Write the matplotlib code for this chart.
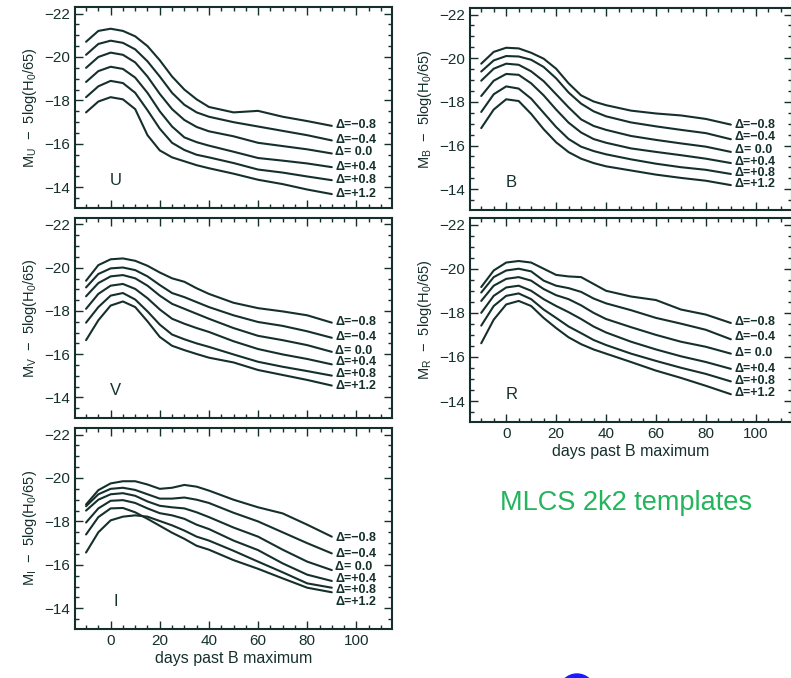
import matplotlib.pyplot as plt
from matplotlib.patches import Ellipse
from matplotlib.ticker import MultipleLocator

plt.rcParams['font.family'] = ['Liberation Sans', 'DejaVu Sans']
plt.rcParams['mathtext.fontset'] = 'custom'
plt.rcParams['mathtext.rm'] = 'Liberation Sans'
plt.rcParams['mathtext.it'] = 'Liberation Sans'

ink = '#15302c'

# days past B maximum, shared by all templates
days = [-10, -5, 0, 5, 10, 15, 20, 25, 30, 35, 40, 50, 60, 70, 80, 90]
delta_text = ['Δ=−0.8', 'Δ=−0.4', 'Δ= 0.0', 'Δ=+0.4', 'Δ=+0.8', 'Δ=+1.2']

# absolute magnitudes, one row per Delta
U_mags = [
    [-20.7, -21.2, -21.3, -21.2, -20.95, -20.5, -19.85, -19.1, -18.5, -18.05, -17.7, -17.45, -17.52, -17.25, -17.05, -16.83],
    [-20.1, -20.6, -20.75, -20.65, -20.35, -19.8, -19.1, -18.35, -17.8, -17.45, -17.25, -17.0, -16.8, -16.6, -16.4, -16.16],
    [-19.5, -20.0, -20.2, -20.1, -19.75, -19.1, -18.3, -17.6, -17.1, -16.78, -16.58, -16.35, -16.05, -15.9, -15.75, -15.56],
    [-18.85, -19.35, -19.55, -19.45, -19.05, -18.35, -17.5, -16.8, -16.3, -16.08, -15.92, -15.64, -15.35, -15.23, -15.1, -14.93],
    [-18.15, -18.65, -18.9, -18.8, -18.35, -17.55, -16.7, -16.05, -15.72, -15.5, -15.38, -15.12, -14.82, -14.68, -14.5, -14.33],
    [-17.45, -17.95, -18.15, -18.05, -17.6, -16.4, -15.7, -15.38, -15.2, -15.02, -14.88, -14.63, -14.35, -14.15, -13.9, -13.69],
]
B_mags = [
    [-19.75, -20.29, -20.48, -20.45, -20.25, -19.98, -19.52, -18.85, -18.3, -18.02, -17.85, -17.6, -17.47, -17.38, -17.22, -16.96],
    [-19.39, -19.9, -20.1, -20.08, -19.93, -19.6, -19.08, -18.43, -17.92, -17.57, -17.34, -17.06, -16.88, -16.72, -16.57, -16.29],
    [-18.97, -19.52, -19.75, -19.7, -19.4, -18.95, -18.35, -17.75, -17.2, -16.9, -16.72, -16.44, -16.26, -16.1, -15.95, -15.71],
    [-18.27, -18.97, -19.28, -19.24, -18.85, -18.3, -17.65, -17.05, -16.6, -16.3, -16.13, -15.87, -15.71, -15.56, -15.4, -15.2],
    [-17.54, -18.35, -18.71, -18.61, -18.15, -17.5, -16.85, -16.3, -15.95, -15.75, -15.6, -15.37, -15.17, -15.01, -14.89, -14.7],
    [-16.8, -17.65, -18.12, -18.04, -17.45, -16.75, -16.15, -15.7, -15.4, -15.2, -15.05, -14.86, -14.67, -14.52, -14.39, -14.19],
]
V_mags = [
    [-19.4, -20.12, -20.39, -20.43, -20.32, -20.09, -19.78, -19.51, -19.35, -19.05, -18.79, -18.38, -18.13, -17.98, -17.8, -17.46],
    [-19.09, -19.71, -19.97, -20.01, -19.89, -19.6, -19.2, -18.83, -18.64, -18.41, -18.18, -17.8, -17.49, -17.31, -17.06, -16.76],
    [-18.68, -19.29, -19.6, -19.66, -19.51, -19.17, -18.71, -18.33, -18.1, -17.87, -17.64, -17.21, -16.85, -16.65, -16.42, -16.11],
    [-18.1, -18.79, -19.17, -19.25, -19.02, -18.59, -18.07, -17.64, -17.41, -17.21, -17.03, -16.6, -16.24, -15.99, -15.78, -15.53],
    [-17.46, -18.18, -18.71, -18.83, -18.53, -17.98, -17.37, -16.91, -16.69, -16.5, -16.34, -15.99, -15.65, -15.42, -15.22, -15.01],
    [-16.65, -17.57, -18.25, -18.44, -18.18, -17.52, -16.8, -16.39, -16.19, -16.01, -15.84, -15.62, -15.27, -15.04, -14.81, -14.55],
]
R_mags = [
    [-19.17, -19.92, -20.28, -20.35, -20.28, -20.0, -19.72, -19.65, -19.62, -19.31, -19.0, -18.74, -18.58, -18.15, -17.92, -17.54],
    [-18.92, -19.62, -19.92, -20.0, -19.88, -19.46, -19.23, -19.12, -18.95, -18.65, -18.43, -18.12, -17.77, -17.51, -17.23, -16.8],
    [-18.54, -19.23, -19.54, -19.62, -19.46, -19.08, -18.8, -18.62, -18.34, -18.0, -17.72, -17.35, -17.0, -16.69, -16.46, -16.15],
    [-18.0, -18.77, -19.15, -19.23, -19.0, -18.62, -18.31, -18.03, -17.72, -17.38, -17.11, -16.69, -16.34, -16.03, -15.77, -15.46],
    [-17.42, -18.31, -18.77, -18.88, -18.62, -18.15, -17.77, -17.38, -17.08, -16.77, -16.54, -16.15, -15.82, -15.51, -15.23, -14.89],
    [-16.62, -17.69, -18.38, -18.54, -18.31, -17.77, -17.31, -16.89, -16.58, -16.34, -16.15, -15.77, -15.38, -15.05, -14.69, -14.31],
]
I_mags = [
    [-18.78, -19.44, -19.75, -19.85, -19.85, -19.7, -19.5, -19.55, -19.68, -19.6, -19.42, -19.0, -18.65, -18.37, -17.85, -17.3],
    [-18.7, -19.25, -19.5, -19.55, -19.45, -19.25, -19.05, -19.05, -19.1, -19.0, -18.85, -18.4, -18.0, -17.5, -17.0, -16.53],
    [-18.5, -19.0, -19.25, -19.3, -19.18, -18.92, -18.72, -18.65, -18.6, -18.42, -18.2, -17.72, -17.3, -16.7, -16.15, -15.76],
    [-17.95, -18.6, -18.95, -18.98, -18.85, -18.6, -18.38, -18.28, -18.12, -17.85, -17.65, -17.12, -16.68, -16.07, -15.55, -15.26],
    [-17.4, -18.2, -18.6, -18.62, -18.42, -18.12, -17.8, -17.48, -17.2, -16.88, -16.7, -16.22, -15.82, -15.38, -14.95, -14.74],
    [-16.57, -17.5, -18.05, -18.22, -18.28, -18.22, -18.02, -17.82, -17.58, -17.3, -17.12, -16.65, -16.15, -15.66, -15.15, -14.95],
]

# vertical placement of the Delta labels in each panel
U_label_y = [-16.87, -16.17, -15.63, -14.93, -14.33, -13.7]
B_label_y = [-16.95, -16.38, -15.82, -15.25, -14.73, -14.24]
V_label_y = [-17.49, -16.8, -16.16, -15.62, -15.07, -14.51]
R_label_y = [-17.57, -16.89, -16.18, -15.46, -14.92, -14.38]
I_label_y = [-17.25, -16.48, -15.9, -15.36, -14.83, -14.28]

panels = [
    ('U', U_mags, U_label_y, [75, 7, 392, 208], False),
    ('V', V_mags, V_label_y, [75, 218, 392, 418], False),
    ('I', I_mags, I_label_y, [75, 428, 392, 629], True),
    ('B', B_mags, B_label_y, [470, 8, 792, 210], False),
    ('R', R_mags, R_label_y, [470, 218, 792, 422], True),
]

W, H = 791, 678
fig = plt.figure(figsize=(W / 100, H / 100), dpi=100)

for band, mags, label_y, box, show_x in panels:
    x0, y0, x1, y1 = box
    ax = fig.add_axes([x0 / W, 1 - y1 / H, (x1 - x0) / W, (y1 - y0) / H])
    for row, ly, txt in zip(mags, label_y, delta_text):
        ax.plot(days, row, color=ink, lw=1.5, solid_joinstyle='round',
                solid_capstyle='round')
        ax.text(91.5, ly, txt, color=ink, fontsize=9, fontweight='bold',
                va='center', ha='left')
    ax.text(2, -14.3, band, color=ink, fontsize=12, ha='center', va='center')

    ax.set_xlim(-14.5, 114.5)
    ax.set_ylim(-13.05, -22.3)
    ax.xaxis.set_major_locator(MultipleLocator(20))
    ax.xaxis.set_minor_locator(MultipleLocator(5))
    ax.yaxis.set_major_locator(MultipleLocator(2))
    ax.yaxis.set_minor_locator(MultipleLocator(0.5))
    ax.tick_params(which='both', direction='in', top=True, right=True,
                   color=ink, labelcolor=ink, labelsize=11, width=1.0)
    ax.tick_params(which='major', length=6)
    ax.tick_params(which='minor', length=3)
    for sp in ax.spines.values():
        sp.set_color(ink)
        sp.set_linewidth(1.5)
    ax.set_ylabel(r'M$_%s$  $-$  5log(H$_0$/65)' % band, color=ink, fontsize=10.5)
    if show_x:
        ax.set_xlabel('days past B maximum', color=ink, fontsize=11.5, labelpad=2)
    else:
        ax.tick_params(labelbottom=False)

fig.text(626 / W, 1 - 503 / H, 'MLCS 2k2 templates', color='#23b45c',
         fontsize=19.5, ha='center', va='center')

# blue blob at the bottom edge of the scan
fig.patches.append(Ellipse((577 / W, 1 - 692 / H), 36 / W, 36 / H,
                           transform=fig.transFigure, color='#1a1aff'))

fig.savefig('out.png', dpi=100)
